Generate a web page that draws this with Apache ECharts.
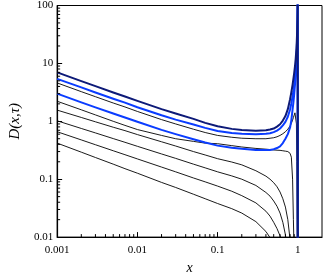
<!DOCTYPE html>
<html>
<head>
<meta charset="utf-8">
<script src="https://cdn.jsdelivr.net/npm/echarts@6/dist/echarts.min.js"></script>
<style>
html, body { margin: 0; padding: 0; background: #fff; }
#chart { width: 327px; height: 280px; }
</style>
</head>
<body>
<div id="chart"></div>
<script>
// x grid shared by every curve (a curve may stop early once it has left the plot)
const xs = [0.001, 0.002, 0.003, 0.005, 0.007, 0.01, 0.02, 0.03, 0.05, 0.07,
  0.1, 0.15, 0.2, 0.3, 0.4, 0.45, 0.5, 0.55, 0.6, 0.65,
  0.7, 0.75, 0.8, 0.83, 0.86, 0.88, 0.9, 0.92, 0.94, 0.96,
  0.97, 0.98, 0.99, 0.995, 1]

// thick curves (diverge at x -> 1)
const navyCurve = [7.0, 4.95, 4.05, 3.15, 2.68, 2.25, 1.62, 1.36, 1.1, 0.94,
  0.82, 0.74, 0.71, 0.69, 0.7, 0.72, 0.75, 0.81, 0.89, 1.03,
  1.23, 1.62, 2.4, 3.2, 4.3, 5.4, 6.8, 8.8, 12, 18,
  24, 35, 70, 150, 0.001]
const blueCurve1 = [5.4, 3.85, 3.15, 2.45, 2.1, 1.75, 1.27, 1.07, 0.88, 0.77,
  0.68, 0.63, 0.61, 0.6, 0.61, 0.62, 0.65, 0.69, 0.75, 0.85,
  0.98, 1.2, 1.6, 2.05, 2.7, 3.3, 4.3, 5.8, 8, 12.5,
  17, 27, 60, 130, 0.001]
const blueCurve2 = [3.0, 2.12, 1.74, 1.36, 1.16, 0.98, 0.71, 0.6, 0.49, 0.43,
  0.38, 0.35, 0.335, 0.32, 0.318, 0.32, 0.33, 0.345, 0.37, 0.42,
  0.5, 0.6, 0.78, 1.05, 1.6, 2.1, 2.9, 4.2, 6.2, 10,
  14, 22, 50, 120, 0.001]

// thin black curves
const blackA = [4.6, 3.25, 2.66, 2.07, 1.77, 1.48, 1.07, 0.9, 0.73, 0.64,
  0.57, 0.53, 0.51, 0.5, 0.5, 0.51, 0.52, 0.54, 0.57, 0.61,
  0.66, 0.73, 0.83, 0.92, 1.05, 1.16, 1.28, 1.4, 1.38, 0.9,
  0.2, 0.02, 0.002, 0.001]
const blackB = [2.22, 1.58, 1.29, 1.0, 0.85, 0.72, 0.57, 0.5, 0.45, 0.42,
  0.41, 0.38, 0.36, 0.34, 0.33, 0.325, 0.32, 0.317, 0.315, 0.31,
  0.305, 0.3, 0.28, 0.24, 0.1, 0.02, 0.005, 0.001]
const blackC = [1.56, 1.165, 0.98, 0.79, 0.69, 0.59, 0.443, 0.374, 0.3, 0.262,
  0.226, 0.198, 0.177, 0.14, 0.113, 0.1, 0.087, 0.074, 0.06, 0.046,
  0.033, 0.02, 0.009, 0.004, 0.001]
const blackD = [1.02, 0.752, 0.63, 0.503, 0.434, 0.37, 0.273, 0.229, 0.182, 0.157,
  0.134, 0.114, 0.1, 0.078, 0.059, 0.051, 0.042, 0.034, 0.026, 0.018,
  0.011, 0.005, 0.001]
const blackE = [0.66, 0.477, 0.394, 0.31, 0.265, 0.224, 0.162, 0.134, 0.105, 0.09,
  0.076, 0.062, 0.052, 0.039, 0.028, 0.023, 0.018, 0.014, 0.0105, 0.0065,
  0.003, 0.001]
const blackF = [0.42, 0.293, 0.237, 0.182, 0.152, 0.127, 0.088, 0.072, 0.055, 0.046,
  0.038, 0.031, 0.026, 0.0185, 0.0125, 0.0098, 0.007, 0.004, 0.002, 0.001]

const xTicks = ['0.001', '0.01', '0.1', '1']
const yTicks = ['0.01', '0.1', '1', '10', '100']
// minor tick positions (2..9 in each decade)
const xMinor = [0.002, 0.003, 0.004, 0.005, 0.006, 0.007, 0.008, 0.009,
  0.02, 0.03, 0.04, 0.05, 0.06, 0.07, 0.08, 0.09,
  0.2, 0.3, 0.4, 0.5, 0.6, 0.7, 0.8, 0.9]
const yMinor = [0.02, 0.03, 0.04, 0.05, 0.06, 0.07, 0.08, 0.09,
  0.2, 0.3, 0.4, 0.5, 0.6, 0.7, 0.8, 0.9,
  2, 3, 4, 5, 6, 7, 8, 9,
  20, 30, 40, 50, 60, 70, 80, 90]

const serif = '"Liberation Serif", "DejaVu Serif", serif'

const pairs = ys => ys.map((y, i) => [xs[i], y])

const makeLine = (ys, color, width, z) => ({
  type: 'line',
  data: pairs(ys),
  showSymbol: false,
  smooth: false,
  clip: true,
  z: z,
  lineStyle: { color: color, width: width, join: 'round' },
  animation: false
})

// short inward tick marks, placed through the axis scales
const minorTicks = (vals, isX) => ({
  type: 'custom',
  clip: false,
  silent: true,
  z: 5,
  animation: false,
  data: vals.map(v => isX ? [v, 0.01] : [0.001, v]),
  renderItem: (params, api) => {
    const p = api.coord([api.value(0), api.value(1)])
    return {
      type: 'line',
      shape: isX
        ? { x1: p[0], y1: p[1], x2: p[0], y2: p[1] - 3 }
        : { x1: p[0], y1: p[1], x2: p[0] + 3, y2: p[1] },
      style: { stroke: '#000', lineWidth: 1 }
    }
  }
})

const chart = echarts.init(document.getElementById('chart'))

const axisCommon = {
  type: 'log',
  logBase: 10,
  axisLine: { show: true, lineStyle: { color: '#000', width: 1.2 } },
  axisTick: { show: true, inside: true, length: 5, lineStyle: { color: '#000' } },
  minorTick: { show: false },
  splitLine: { show: false },
  axisLabel: { color: '#000', fontFamily: serif, fontSize: 11 }
}

chart.setOption({
  backgroundColor: '#fff',
  grid: {
    left: 47, right: 5, top: 5, bottom: 38,
    show: true, borderColor: '#000', borderWidth: 1
  },
  xAxis: Object.assign({}, axisCommon, {
    min: 0.001,
    max: 2,
    name: 'x',
    nameLocation: 'middle',
    nameGap: 22,
    nameTextStyle: { fontFamily: serif, fontStyle: 'italic', fontSize: 14, color: '#000' },
    axisLabel: Object.assign({}, axisCommon.axisLabel, {
      margin: 8,
      showMaxLabel: false,
      formatter: v => xTicks.find(t => Math.abs(Number(t) - v) < v * 1e-6) || ''
    })
  }),
  yAxis: Object.assign({}, axisCommon, {
    min: 0.01,
    max: 100,
    name: 'D(x,τ)',
    nameLocation: 'middle',
    nameGap: 27,
    nameTextStyle: { fontFamily: serif, fontStyle: 'italic', fontSize: 15, color: '#000' },
    axisLabel: Object.assign({}, axisCommon.axisLabel, {
      margin: 4,
      formatter: v => yTicks.find(t => Math.abs(Number(t) - v) < v * 1e-6) || ''
    })
  }),
  series: [
    makeLine(blackF, '#000', 0.9, 2),
    makeLine(blackE, '#000', 0.9, 2),
    makeLine(blackD, '#000', 0.9, 2),
    makeLine(blackC, '#000', 0.9, 2),
    makeLine(blackB, '#000', 0.9, 2),
    makeLine(blackA, '#000', 0.9, 2),
    makeLine(blueCurve2, '#0a3cff', 2, 3),
    makeLine(blueCurve1, '#0a3cff', 2, 3),
    makeLine(navyCurve, '#0d1a78', 2, 3),
    minorTicks(xMinor, true),
    minorTicks(yMinor, false)
  ]
})
</script>
</body>
</html>
